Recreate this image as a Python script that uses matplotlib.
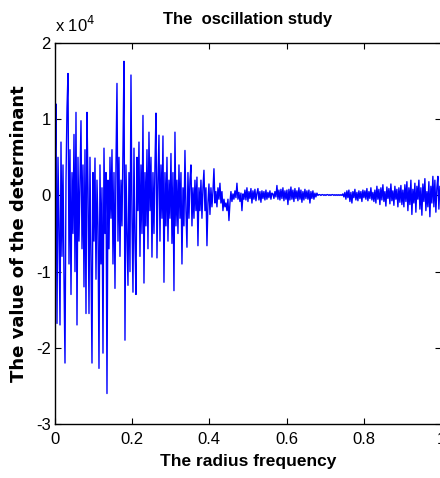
import numpy as np
import matplotlib
matplotlib.use("Agg")
import matplotlib.pyplot as plt

# determinant value (units of 1e4) sampled on a uniform frequency grid 0..1
det_values = [
    0.3, 1.2, -1.68, 0.5, -0.4, -1.7, 0.7, -0.8, 0.4, -1.1,
    -2.2, 0.2, 1.14, 1.6, -0.9, 0.6, -1.3, 0.3, -0.5, 0.8,
    -1.0, 1.09, -1.7, 0.5, -0.6, 0.2, 0.98, -0.7, 0.4, -1.2,
    0.6, -1.55, 1.09, 0.1, -1.55, 0.5, -0.8, -2.2, 0.3, -0.6,
    0.49, -1.1, 0.2, -0.4, -2.27, 0.4, -0.9, 0.1, -2.07, 0.62,
    -0.5, 0.3, -2.6, 0.2, -0.7, 0.5, -0.3, 0.6, -0.9, 0.3,
    -1.22, 0.4, 1.47, -0.6, 0.5, -0.8, 0.2, -0.4, 0.6, 1.76,
    -1.9, 0.4, -0.5, -1.18, 0.3, -1.0, 1.58, -0.3, -1.27, 0.62,
    -0.6, -1.3, 0.5, -0.2, 0.7, -0.8, 0.4, -0.5, 1.05, -1.15,
    0.3, -0.4, 0.6, -0.7, 0.83, -0.2, 0.5, -0.81, 0.3, -0.5,
    0.4, 1.08, -0.82, 0.2, 0.79, -0.6, 0.4, -0.3, 0.78, -1.14,
    0.3, -0.4, 0.5, -0.6, 0.2, -0.3, 0.55, -0.63, 0.3, -1.25,
    0.83, -0.4, 0.2, -0.5, 0.4, -0.3, 0.3, -0.9, 0.1, -0.4,
    0.59, -0.2, -0.68, 0.3, -0.3, 0.2, 0.4, -0.4, 0.1, -0.3,
    0.2, -0.2, 0.24, -0.66, 0.1, -0.2, 0.2, -0.3, 0.1, 0.33,
    -0.2, 0.1, -0.66, -0.1, 0.15, -0.25, 0.1, -0.15, 0.05, 0.35,
    -0.1, 0.05, -0.15, 0.1, -0.05, 0.16, -0.1, 0.05, -0.2, -0.05,
    -0.15, -0.1, -0.2, -0.05, -0.33, -0.1, 0.05, -0.08, 0.02, -0.05,
    0.06, -0.03, 0.16, -0.05, 0.04, -0.08, 0.03, -0.2, 0.02, -0.05,
    0.07, -0.06, 0.1, -0.08, 0.05, -0.04, 0.09, -0.1, 0.06, -0.05,
    0.08, -0.07, 0.03, 0.09, -0.06, 0.05, -0.09, 0.06, -0.04, 0.05,
    -0.06, 0.07, -0.05, 0.04, -0.03, 0.06, -0.05, 0.03, 0.02, -0.04,
    0.05, -0.02, 0.13, -0.05, 0.07, -0.06, 0.08, -0.04, 0.1, -0.07,
    0.06, -0.05, 0.07, -0.12, 0.08, -0.06, 0.11, -0.05, 0.07, -0.08,
    0.09, -0.04, 0.06, -0.07, 0.1, -0.05, 0.07, -0.09, 0.05, -0.06,
    0.08, -0.04, 0.06, -0.05, 0.07, -0.1, 0.05, -0.04, 0.06, -0.05,
    0.03, -0.02, 0.03, 0.0, 0.01,
    0.01, 0.0, 0.01, 0.01, 0.0, 0.01, 0.0, 0.01, 0.01, 0.0,
    0.01, 0.0, 0.01, 0.01, 0.0, 0.01, 0.0, 0.01, 0.0, 0.01,
    0.0, 0.01, 0.0, 0.02,
    -0.02, 0.04, -0.05, 0.06, -0.03, 0.07, -0.08, 0.04, -0.1, 0.05,
    -0.03, 0.08, -0.06, 0.04, -0.07, 0.06, -0.04, 0.05, -0.08, 0.07,
    -0.03, 0.06, -0.05, 0.09, -0.07, 0.05, -0.04, 0.1, -0.06, 0.04,
    -0.08, 0.07, -0.1, 0.12, -0.05, 0.08, -0.12, 0.1, -0.06, 0.14,
    -0.08, 0.05, -0.14, 0.11, -0.04, 0.09, -0.11, 0.15, -0.07, 0.06,
    -0.13, 0.12, -0.05, 0.08, -0.15, 0.1, -0.09, 0.13, -0.12, 0.07,
    -0.15, 0.14, -0.08, 0.18, -0.2, 0.1, -0.12, 0.2, -0.25, 0.08,
    -0.1, 0.16, -0.22, 0.12, -0.05, 0.2, -0.18, 0.1, -0.26, 0.15,
    -0.08, 0.22, -0.2, 0.05, -0.15, 0.18, -0.28, 0.12, -0.1, 0.25,
    -0.15, 0.2, -0.22, 0.1, 0.25, -0.18, 0.12, -0.06,
]
freq_start, freq_stop = 0.0, 1.0

x_ticks = [0, 0.2, 0.4, 0.6, 0.8, 1.0]
x_tick_labels = ["0", "0.2", "0.4", "0.6", "0.8", "1"]
y_ticks = [-3, -2, -1, 0, 1, 2]
y_tick_labels = ["-3", "-2", "-1", "0", "1", "2"]

freq = np.linspace(freq_start, freq_stop, len(det_values))
vals = np.array(det_values)

plt.rcParams["font.family"] = ["Liberation Sans", "DejaVu Sans"]

fig = plt.figure(figsize=(4.4, 4.78), dpi=100)
ax = fig.add_axes([0.125, 0.113, 0.877, 0.797])

ax.plot(freq, vals, color="#0000ff", linewidth=1.0)

ax.set_xlim(0, 1)
ax.set_ylim(-3, 2)
ax.set_xticks(x_ticks)
ax.set_xticklabels(x_tick_labels)
ax.set_yticks(y_ticks)
ax.set_yticklabels(y_tick_labels)
ax.tick_params(axis="both", direction="in", top=True, right=True, labelsize=12,
               length=4, width=0.8)
ax.tick_params(axis="x", pad=6)
ax.tick_params(axis="y", pad=3)
for s in ax.spines.values():
    s.set_linewidth(1.0)

# exponent marker like MATLAB puts above the y axis
ax.text(0.0, 1.02, "x 10$^{4}$", transform=ax.transAxes, fontsize=12,
        ha="left", va="bottom")
ax.set_title("The  oscillation study", fontsize=12, fontweight="bold", pad=14)
ax.set_xlabel("The radius frequency", fontsize=12.5, fontweight="bold", labelpad=5)
ax.set_ylabel("The value of the determinant", fontsize=13, fontweight="bold",
              labelpad=6, family=["DejaVu Sans"])

fig.savefig("out.png", dpi=100)
